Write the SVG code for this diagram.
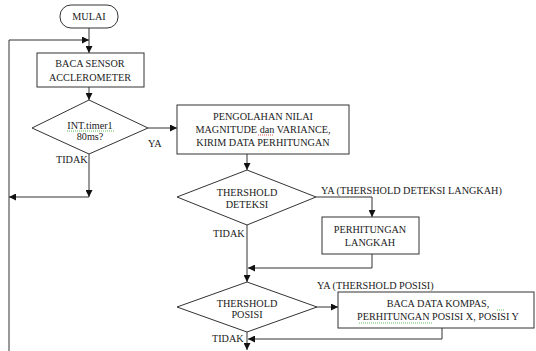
<svg xmlns="http://www.w3.org/2000/svg" width="536" height="351" viewBox="0 0 536 351">
<defs>
<style>
.sh{fill:#fff;stroke:#333;stroke-width:1}
.ln{fill:none;stroke:#333;stroke-width:1;marker-end:url(#ah)}
.pl{fill:none;stroke:#333;stroke-width:1}
text{font-family:"Liberation Serif","Times New Roman",serif;font-size:10.2px;fill:#1a1a1a}
.c{text-anchor:middle}
.sq{fill:none;stroke-width:0.8;stroke-dasharray:1 1}
</style>
<marker id="ah" viewBox="0 0 10 10" refX="10" refY="5" markerWidth="7" markerHeight="7" orient="auto" markerUnits="userSpaceOnUse">
<path d="M0,0 L10,5 L0,10 z" fill="#111"/>
</marker>
</defs>
<rect width="536" height="351" fill="#fff"/>
<g id="connectors">
<path class="ln" d="M89,28 V53"/>
<path class="ln" d="M9,351 V40 H89"/>
<path class="ln" d="M89,87 V100"/>
<path class="ln" d="M148,128 H177"/>
<path class="ln" d="M89,154 V197"/>
<path class="ln" d="M89,197 H9"/>
<path class="ln" d="M247,154 V170"/>
<path class="ln" d="M316,197 H372 V217"/>
<path class="ln" d="M372,254 V268 H248"/>
<path class="ln" d="M247,225 V282"/>
<path class="ln" d="M317,307 H338"/>
<path class="ln" d="M442,328 V339 H248"/>
<path class="ln" d="M247,332 V350"/>
<text x="148" y="147">YA</text>
<text x="56" y="163">TIDAK</text>
<text x="321" y="194">YA (THERSHOLD DETEKSI LANGKAH)</text>
<text x="213" y="237">TIDAK</text>
<text x="317" y="289">YA (THERSHOLD POSISI)</text>
<text x="212" y="342">TIDAK</text>
</g>
<g id="mulai">
<rect class="sh" x="60" y="5" width="58" height="23" rx="11"/>
<text class="c" x="89" y="20">MULAI</text>
</g>
<g id="baca-sensor">
<rect class="sh" x="37" y="53" width="107" height="34"/>
<text class="c" x="90" y="67">BACA SENSOR</text>
<text class="c" x="90" y="81">ACCLEROMETER</text>
</g>
<g id="int-timer">
<polygon class="sh" points="89,100 148,128 89,154 32,128"/>
<text class="c" x="90" y="128.5">INT.timer1</text>
<text class="c" x="90" y="140">80ms?</text>
<path class="sq" stroke="#3a3" d="M67,131 H114"/>
</g>
<g id="pengolahan">
<rect class="sh" x="177" y="105" width="172" height="49"/>
<text class="c" x="263" y="120">PENGOLAHAN NILAI</text>
<text class="c" x="263" y="133">MAGNITUDE dan VARIANCE,</text>
<text class="c" x="263" y="146">KIRIM DATA PERHITUNGAN</text>
<path class="sq" stroke="#d33" d="M258,135 H274"/>
</g>
<g id="thershold-deteksi">
<polygon class="sh" points="247,170 316,197 247,225 177,197"/>
<text class="c" x="247" y="196">THERSHOLD</text>
<text class="c" x="247" y="208">DETEKSI</text>
</g>
<g id="perhitungan-langkah">
<rect class="sh" x="322" y="217" width="97" height="37"/>
<text class="c" x="370" y="233">PERHITUNGAN</text>
<text class="c" x="370" y="246">LANGKAH</text>
</g>
<g id="thershold-posisi">
<polygon class="sh" points="247,282 317,307 247,332 177,307"/>
<text class="c" x="247" y="307">THERSHOLD</text>
<text class="c" x="247" y="318">POSISI</text>
</g>
<g id="baca-kompas">
<rect class="sh" x="338" y="292" width="196" height="36"/>
<text class="c" x="438" y="307">BACA DATA KOMPAS,</text>
<text class="c" x="438" y="320">PERHITUNGAN POSISI X, POSISI Y</text>
<path class="sq" stroke="#3a3" d="M497,310 H505"/>
<path class="sq" stroke="#3a3" d="M359,323 H432"/>
</g>
</svg>
